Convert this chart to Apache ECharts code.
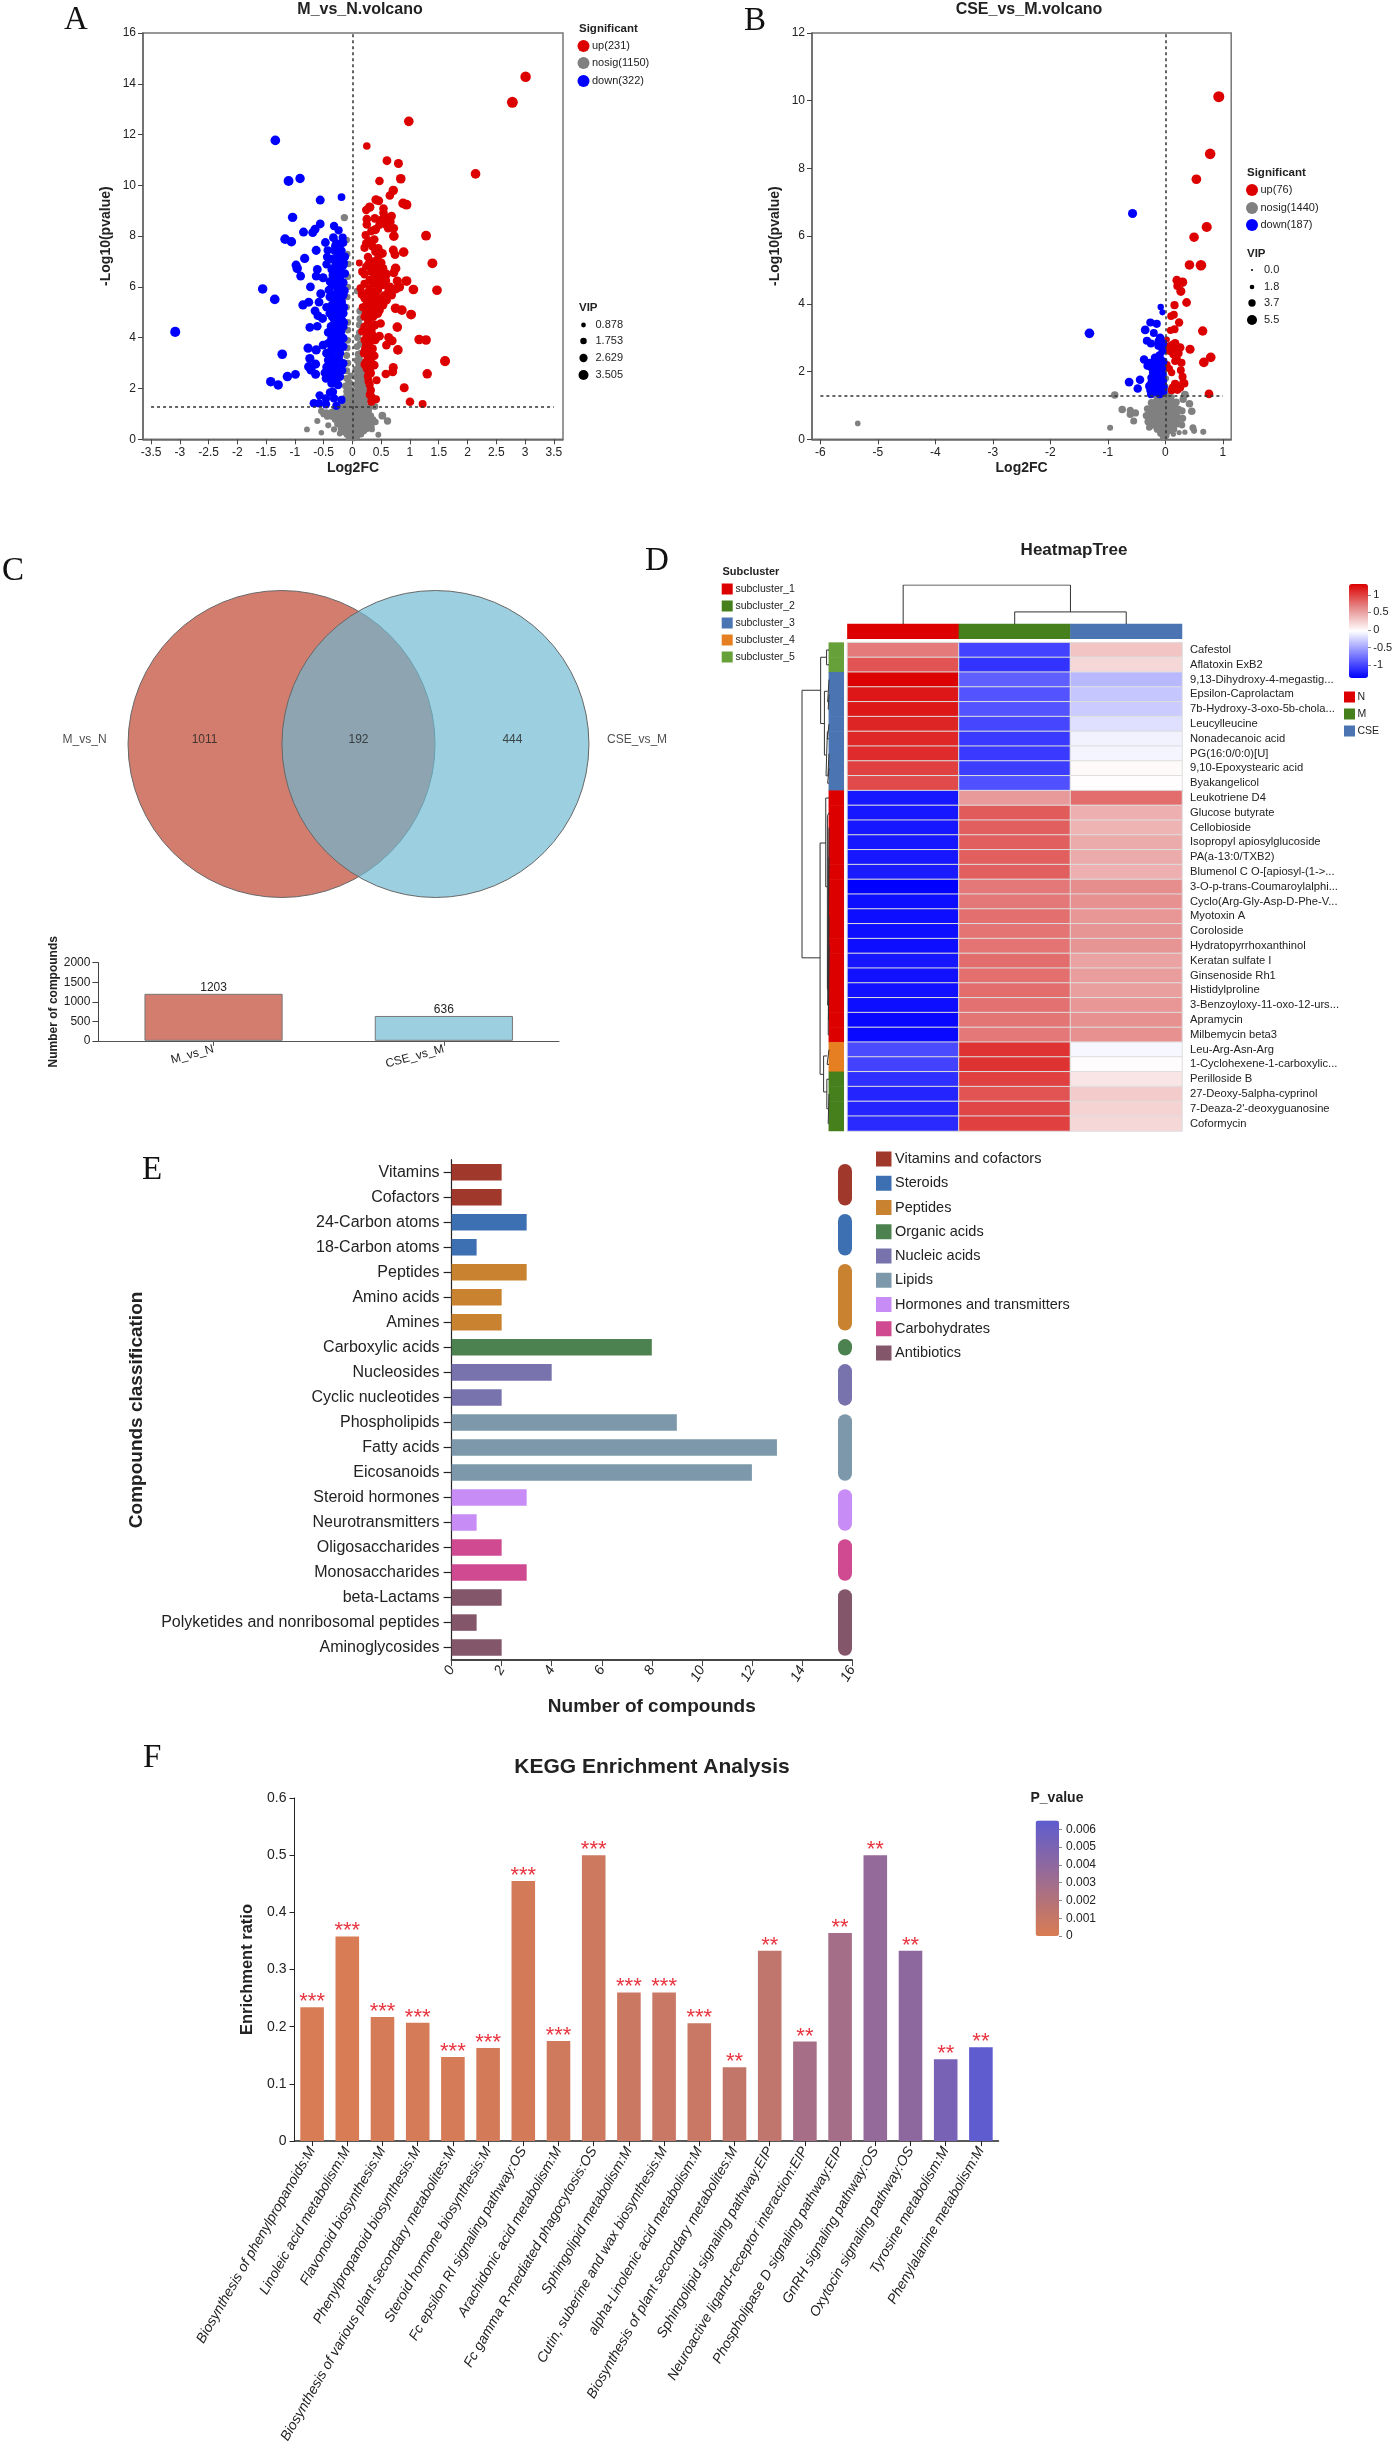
<!DOCTYPE html>
<html><head><meta charset="utf-8">
<script src="https://cdn.jsdelivr.net/npm/echarts@6/dist/echarts.min.js"></script>
<style>html,body{margin:0;padding:0;background:#fff}#c{width:1394px;height:2446px}</style></head>
<body><div id="c"></div>
<script>
// ---------- Panel A: M_vs_N volcano, [log2FC, -log10p, VIP (optional)]
const aUp=[[3.01,14.28,3.1],[2.78,13.27,3.3],[.98,12.52,2.7],[.25,11.55,1.7],[.6,10.97,2.3],[.8,10.86,2.4],[2.14,10.45,2.7],[.47,10.17,2.2],[.84,10.26,2.7],[.71,9.8,2.6],[.65,9.6,2.2],[.41,9.43,2.5],[.46,9.39,2.2],[.88,9.29,2.7],[.94,9.24,2.8],[.3,9.14,2.6],[.24,9.03,2.1],[.54,9.09,2.2],[.54,8.92,2.2],[.25,8.67,2.2],[.39,8.7,2.2],[.68,8.79,2.3],[.5,8.63,2.2],[.57,8.63,2.4],[.66,8.57,2.2],[.59,8.46,2.4],[.25,8.46,2.2],[.72,8.31,2.2],[.4,8.26,2.5],[.33,8.2,2.2],[.62,8.31,2.2],[.72,8,2.7],[1.28,8.02,2.8],[.23,8.04,2],[.28,7.82,2.2],[.38,7.87,2.2],[.24,7.72,2.1],[.21,7.54,2],[.35,7.59,2.2],[.45,7.52,2.2],[.4,7.39,2.2],[.52,7.32,2.4],[.71,7.45,2.4],[.74,7.27,2.3],[.89,7.37,2.7],[.27,7.18,2.1],[.12,6.94,1.4],[1.39,6.93,2.8],[.36,7,2.1],[.5,6.95,2.3],[.24,6.8,2.1],[.39,6.8,2.3],[.53,6.73,2.4],[.75,6.73,2.7],[.21,6.5,2.1],[.33,6.6,2.2],[.45,6.6,2.4],[.59,6.5,2.5],[.72,6.56,2.4],[.39,6.4,2.3],[.53,6.4,2.5],[.78,6.23,2.5],[.94,6.23,2.8],[.3,6.27,2.2],[.21,6.12,2],[.41,6.15,2.3],[.53,6.08,2.3],[.65,6,2.4],[.82,6,2.4],[1.06,5.9,2.7],[1.47,5.87,2.7],[.14,5.95,1.9],[.31,5.95,2.2],[.76,5.92,2.3],[.68,5.68,2.4],[.59,5.48,2.4],[.53,5.29,2.4],[.47,5.09,2.3],[.39,5.68,2.4],[.27,5.8,2.2],[.33,5.62,2.4],[.21,5.55,2.1],[.47,5.55,2.4],[.42,5.4,2.5],[.24,5.29,2.2],[.33,5.29,2.4],[.39,5.09,2.4],[.24,5.03,2.2],[.31,4.96,2.3],[.21,4.83,2.1],[.36,4.83,2.3],[.75,5.16,2.7],[.86,5.09,2.7],[1.02,4.91,2.8],[.49,4.56,2.2],[.27,4.56,2.2],[.39,4.5,2.3],[.21,4.43,2.1],[.78,4.42,2.7],[.33,4.3,2.2],[.24,4.17,2.1],[.47,4.06,2.3],[.4,3.91,2.1],[.63,4.01,2.4],[.69,3.88,2.4],[.59,3.71,2.2],[1.16,3.93,2.7],[1.28,3.91,2.7],[.21,3.91,2.1],[.3,3.84,2.2],[.24,3.71,2.2],[.35,3.57,2.2],[.79,3.52,2.7],[.2,3.39,2.1],[.29,3.32,2.3],[.38,3.29,2.2],[1.61,3.08,2.9],[.24,3.05,2.2],[.33,2.92,2.2],[.38,2.92,2.2],[.3,2.73,2.2],[.71,2.83,2.4],[.7,2.66,2.4],[.58,2.57,2.2],[1.3,2.58,2.6],[.32,2.6,2.1],[.27,2.47,2.1],[.42,2.33,1.9],[.9,2.03,2.4],[.32,1.93,2],[.33,1.68,2.1],[.33,1.48,2],[.41,1.58,1.9],[1,1.48,2.2],[1.22,1.39,1.9],[.28,6.9,2.2],[.44,7.1,2.2],[.17,6.6,2],[.58,6.25,2.3],[.44,5.88,2.3],[.63,5.85,2.3],[.55,5.65,2.4],[.16,5.7,1.9],[.28,5.5,2.2],[.44,4.95,2.3],[.5,5.45,2.3],[.18,5.2,2],[.28,4.7,2.2],[.17,4.25,1.9],[.22,3.55,2],[.25,2.78,2.1],[.21,2.95,1.9],[.6,8.72,2.2],[.47,8.45,2.2],[.55,8.75,2.2],[.49,6.3,2.3],[.35,6.2,2.3],[.34,5.1,2.2],[.28,5.15,2.2],[.3,4.35,2],[.35,4.1,2],[.26,4.0,2],[.28,3.55,2],[.32,3.15,2],[.27,3.25,2],[.28,2.3,2],[.3,2.15,2],[.28,2.55,2],[.3,1.75,1.9]];
const aDown=[[-3.08,4.23,2.9],[-1.34,11.77,2.7],[-1.11,10.17,2.8],[-.91,10.27,2.6],[-.56,9.42,2.4],[-.19,9.54,1.8],[-1.04,8.74,2.6],[-.56,8.48,2.3],[-.32,8.4,2.1],[-.24,8.23,2],[-.65,8.27,2.4],[-.69,8.14,2.4],[-.85,8.16,2.4],[-1.17,7.88,2.7],[-1.06,7.78,2.6],[-.33,7.94,2.3],[-.17,7.94,2],[-.47,7.75,2.3],[-.28,7.72,2.1],[-.16,7.74,2],[-.63,7.44,2.4],[-.43,7.44,2],[-.31,7.43,2.2],[-.19,7.43,2.1],[-.83,7.12,2.5],[-.44,7.18,2.1],[-.22,7.12,2.1],[-.13,7.19,2],[-.45,6.89,2.1],[-.28,6.93,2.3],[-.16,6.86,2.3],[-.98,6.86,2.4],[-.96,6.73,2.6],[-.61,6.69,2.3],[-.36,6.69,2.2],[-.25,6.67,2.4],[-.63,6.43,2.3],[-.9,6.43,2.3],[-.51,6.36,2.4],[-.34,6.47,2.3],[-.22,6.4,2.4],[-.13,6.53,2.1],[-.39,6.21,2.2],[-.28,6.21,2.4],[-.16,6.17,2.3],[-.73,6,2.3],[-1.56,5.92,2.6],[-.41,5.88,2.2],[-.25,5.95,2.4],[-1.35,5.51,2.7],[-.55,5.73,2.4],[-.39,5.61,2.4],[-.25,5.81,2.4],[-.16,5.68,2.3],[-.76,5.4,2.4],[-.86,5.29,2.5],[-.58,5.4,2.3],[-.31,5.42,2.4],[-.19,5.42,2.4],[-.45,5.2,2.2],[-.65,5.06,2.3],[-.6,4.87,2.3],[-.52,4.76,2.4],[-.39,4.96,2.4],[-.25,5.03,2.4],[-.16,4.96,2.3],[-.31,4.7,2.4],[-.19,4.7,2.4],[-.74,4.41,2.3],[-.61,4.45,2.2],[-.42,4.21,2.3],[-.28,4.37,2.4],[-.16,4.43,2.2],[-.25,4.11,2.4],[-.36,3.98,2.4],[-.16,3.98,2.3],[-.51,3.71,2.3],[-.42,3.78,2.2],[-.77,3.59,2.5],[-.63,3.52,2.5],[-.28,3.71,2.4],[-1.22,3.35,2.7],[-.45,3.39,2.3],[-.22,3.39,2.3],[-.74,3.18,2.5],[-.42,3.12,2.3],[-.31,3.05,2.3],[-.16,2.99,2.2],[-.64,2.96,2.4],[-.76,2.86,2.5],[-.72,2.73,2.5],[-.48,2.62,2.2],[-.64,2.56,2.4],[-.28,2.66,2.4],[-.99,2.56,2.3],[-1.13,2.47,2.6],[-1.42,2.27,2.6],[-1.29,2.14,2.6],[-.46,2.4,2.2],[-.22,2.47,2.3],[-.36,2.2,2.3],[-.25,2.14,2.3],[-.34,1.87,2.2],[-.39,1.84,2.1],[-.57,1.73,2.1],[-.46,1.61,2.1],[-.32,1.61,2],[-.19,1.55,2],[-.67,1.42,2.2],[-.58,1.42,2.2],[-.46,1.38,2.1],[-.28,1.32,2],[-.3,7.6,2.1],[-.2,7.7,2],[-.25,7.3,2.2],[-.35,7.1,2.1],[-.15,6.95,2.1],[-.3,6.8,2.3],[-.2,6.6,2.3],[-.3,6.3,2.4],[-.35,6.05,2.3],[-.2,6,2.4],[-.14,5.85,2.3],[-.3,5.7,2.4],[-.22,5.58,2.4],[-.35,5.3,2.3],[-.26,5.25,2.4],[-.15,5.2,2.3],[-.33,5.1,2.3],[-.22,4.85,2.4],[-.35,4.82,2.2],[-.26,4.55,2.4],[-.37,4.45,2.3],[-.15,4.6,2.2],[-.33,4.2,2.3],[-.2,4.25,2.3],[-.3,3.85,2.3],[-.21,3.85,2.3],[-.36,3.55,2.3],[-.26,3.5,2.3],[-.16,3.65,2.2],[-.35,3.25,2.3],[-.24,3.2,2.3],[-.36,2.9,2.2],[-.26,2.85,2.3],[-.45,2.85,2.2],[-.38,2.6,2.3],[-.18,2.72,2.2],[-.3,2.4,2.3],[-.4,2.42,2.2]];
const aNosig=[[-.79,.39,.9],[-.54,.26,.7],[-.61,.72,1],[-.42,.55,1],[-.32,.39,1],[-.22,.23,.9],[-.44,.89,1.1],[-.54,1.11,1.3],[.52,.93,1.8],[.61,.72,1.6],[.39,1.29,1.4],[.45,.18,.9],[.34,.39,.9],[.08,5.84,1.2],[-.06,.08,1.2],[.03,.05,1.2],[0,.15,1.3],[-.1,.2,1.3],[.08,.12,1.3],[.05,.25,1.3],[-.15,.3,1.3],[.12,.28,1.3],[-.03,.3,1.3],[.15,.2,1.2],[.2,.33,1.2],[-.2,.42,1.3],[-.12,.45,1.4],[-.05,.48,1.4],[.02,.42,1.4],[.1,.45,1.4],[.18,.5,1.3],[.26,.42,1.2],[.33,.5,1.2],[-.26,.6,1.3],[-.16,.58,1.4],[-.08,.6,1.4],[.06,.6,1.4],[.14,.58,1.4],[.23,.6,1.3],[.3,.62,1.3],[-.3,.78,1.3],[-.22,.75,1.4],[-.14,.72,1.4],[-.06,.78,1.4],[.02,.72,1.4],[.1,.78,1.4],[.18,.72,1.4],[.26,.8,1.3],[.36,.78,1.2],[.4,.68,1.2],[-.36,.9,1.3],[-.28,.92,1.4],[-.18,.9,1.4],[-.1,.92,1.4],[0,.9,1.4],[.08,.94,1.4],[.16,.9,1.4],[.24,.94,1.4],[.32,.92,1.3],[-.45,1.05,1.3],[-.35,1.08,1.4],[-.26,1.05,1.4],[-.16,1.1,1.4],[-.07,1.06,1.4],[.03,1.1,1.4],[.1,1.08,1.4],[.2,1.1,1.4],[.28,1.08,1.4],[-.2,1.25,1.4],[-.12,1.28,1.4],[-.04,1.25,1.4],[.05,1.28,1.4],[.14,1.25,1.4],[.22,1.28,1.4],[.3,1.26,1.4],[-.5,1,1.3],[-.15,1.45,1.4],[-.07,1.5,1.4],[.04,1.45,1.4],[.12,1.5,1.4],[.2,1.45,1.4],[.26,1.55,1.3],[-.12,1.65,1.4],[-.05,1.7,1.4],[.06,1.68,1.4],[.14,1.7,1.4],[.22,1.72,1.4],[-.1,1.88,1.4],[-.03,1.95,1.4],[.08,1.9,1.4],[.16,1.92,1.4],[.22,1.95,1.4],[-.12,2.1,1.4],[-.04,2.2,1.3],[.06,2.15,1.4],[.14,2.2,1.4],[.2,2.25,1.4],[-.1,2.4,1.4],[-.03,2.5,1.2],[.07,2.45,1.4],[.14,2.5,1.4],[.19,2.55,1.4],[-.1,2.7,1.4],[.06,2.75,1.4],[.12,2.8,1.4],[.17,2.85,1.3],[-.08,3,1.4],[.08,3.1,1.4],[.14,3.05,1.3],[-.1,3.3,1.4],[.1,3.35,1.4],[.15,3.4,1.3],[-.09,3.6,1.3],[.08,3.65,1.4],[.13,3.75,1.3],[-.08,3.9,1.3],[.09,4,1.4],[.12,4.2,1.3],[-.08,4.3,1.3],[.12,4.5,1.4],[-.08,4.6,1.3],[.13,4.75,1.4],[.13,5.05,1.5],[-.1,5.2,1.2],[-.09,5.6,1.2],[-.08,6,1.2],[-.08,6.4,1.2],[-.07,6.9,1.2],[-.09,7.3,1.2],[-.1,7.85,1.2],[-.14,8.73,1.6],[-.02,1.6,1.3],[.01,1.2,1.4],[.01,.7,1.4],[-.04,.95,1.4],[.05,.8,1.4],[-.1,.55,1.3],[.12,.95,1.3],[-.12,.85,1.3],[.18,1,1.3],[-.22,1,1.3],[-.3,1.2,1.3],[-.2,.65,1.3],[.22,.82,1.3],[.27,.55,1.2],[.1,.22,1.2],[-.04,.18,1.2],[.04,.36,1.3],[-.08,.38,1.2],[.16,.36,1.2],[.0,1.42,1.2],[.1,1.38,1.3],[-.1,1.38,1.3],[.18,1.58,1.3],[.1,1.82,1.3],[.0,1.82,1.1],[.11,2.05,1.3],[.18,2.1,1.3],[.1,2.32,1.3],[.17,2.38,1.3],[-.07,2.3,1.2],[.09,2.6,1.3],[.15,2.68,1.3],[.11,2.95,1.3],[.12,3.2,1.3]];
const bUp=[[.93,10.12,5.5],[.78,8.43,5.2],[.54,7.68,4.6],[.72,6.27,4.9],[.5,5.97,4.5],[.42,5.15,4.5],[.62,5.14,5.2],[.2,4.7,4],[.3,4.64,4.4],[.21,4.53,3.6],[.27,4.37,4.2],[.37,4.04,4],[.16,3.96,3.6],[.15,3.68,3.3],[.1,3.64,3.3],[.24,3.45,3.7],[.65,3.2,4.4],[.16,3.25,3.5],[.09,3.22,3],[.03,2.95,1.8],[.17,2.83,4],[.11,2.78,3.8],[.07,2.74,3.5],[.26,2.71,3.8],[.21,2.66,3.9],[.43,2.66,4.2],[.14,2.66,3.8],[.08,2.61,3.4],[.23,2.54,3.6],[.14,2.51,3.6],[.2,2.36,3.6],[.79,2.42,4.6],[.67,2.27,4.6],[.28,2.26,3.6],[.17,2.31,3.4],[.03,2.21,2.8],[.27,2.04,3.4],[.07,2.09,3],[.11,1.97,3],[.3,1.85,3.5],[.33,1.65,3.6],[.31,1.67,3.4],[.17,1.64,3.6],[.21,1.57,3.7],[.13,1.53,3.6],[.26,1.53,3.4],[.11,1.45,3.4],[.21,1.46,3.6],[.76,1.34,4]];
const bDown=[[-.57,6.67,4.2],[-1.32,3.13,4.6],[-.08,3.91,2.4],[-.05,3.75,2.2],[-.26,3.45,3.6],[-.15,3.41,3.6],[-.35,3.23,4],[-.2,3.14,3.4],[-.32,2.91,3.6],[-.25,2.83,3.6],[-.09,3,3.8],[-.12,2.9,3.4],[-.03,2.85,3],[-.12,2.76,3.6],[-.05,2.78,3.4],[-.05,2.61,3.4],[-.1,2.48,3.6],[-.37,2.36,3.8],[-.18,2.41,3.8],[-.09,2.36,4],[-.27,2.26,3.6],[-.21,2.26,3.8],[-.12,2.24,4],[-.03,2.3,3.4],[-.31,2.17,3.6],[-.24,2.12,3.8],[-.15,2.09,4],[-.06,2.09,4],[-.21,1.97,4],[-.12,1.92,4],[-.05,1.92,4],[-.24,1.82,3.8],[-.17,1.77,4],[-.08,1.75,4],[-.44,1.76,3.8],[-.63,1.69,4],[-.24,1.67,3.8],[-.15,1.62,4],[-.06,1.59,4],[-.28,1.57,3.6],[-.48,1.5,3.8],[-.21,1.53,4],[-.12,1.48,4],[-.25,1.33,3.4],[-.1,1.33,3.6],[-.18,1.43,4],[-.03,1.43,3.6],[-.26,1.45,3.6],[-.08,2.05,3.8],[-.18,1.85,4],[-.04,1.72,3.8],[-.13,2.15,3.8],[-.2,2.02,3.8],[-.1,1.62,3.8],[-.17,2.2,3.8],[-.03,1.55,3.6],[-.2,1.7,3.8],[-.14,1.4,3.8]];
const bNosig=[[-5.35,.47,1.9],[-.88,1.31,3.2],[-.96,.34,2.2],[-.75,.88,3.2],[-.61,.86,2.8],[-.61,.74,3],[-.52,.78,3],[-.55,.54,2.8],[.34,1.32,3.4],[.42,1.05,3.2],[.46,.83,3.2],[.48,.34,2.8],[.5,.25,2.2],[.66,.22,2.2],[.34,.21,1.6],[.24,.2,1.6],[.14,.15,1.6],[.31,1.18,3],[-.03,.06,3],[.01,.12,3],[-.08,.18,3],[.05,.25,3],[-.14,.3,3],[-.04,.32,3.2],[.08,.38,3],[.15,.3,2.6],[-.28,.35,2.4],[-.22,.42,3],[-.3,.52,3],[-.2,.58,3.2],[-.11,.5,3.2],[-.02,.55,3.2],[.06,.52,3.2],[.14,.48,3.2],[.22,.46,3],[.29,.42,2.6],[-.33,.7,3],[-.25,.76,3.2],[-.15,.72,3.2],[-.06,.74,3.2],[.03,.7,3.2],[.11,.72,3.2],[.2,.68,3.2],[.3,.62,3],[-.31,.9,3],[-.22,.94,3.2],[-.13,.9,3.2],[-.04,.94,3.2],[.05,.9,3.2],[.14,.92,3.2],[.23,.88,3.2],[.29,.84,3],[-.24,1.08,3.2],[-.16,1.1,3.2],[-.07,1.08,3.2],[.02,1.12,3.2],[.1,1.08,3.2],[.19,1.1,3],[-.14,1.22,3],[-.05,1.26,3],[.03,1.28,3],[.1,1.24,2.8],[0,1.55,2.4],[.01,1.8,2.4],[.02,2.1,2.2],[.03,2.6,2.2],[.02,2.95,2.2],[-.26,.6,3.2],[-.16,.62,3.2],[-.07,.62,3.2],[.02,.6,3.2],[.1,.6,3.2],[.18,.58,3.2],[-.2,.84,3.2],[-.1,.82,3.2],[.0,.82,3.2],[.09,.82,3.2],[.18,.8,3.2],[-.09,.42,3.2],[.0,.42,3.2],[.1,.28,3],[-.18,.48,3],[-.12,1.0,3.2],[-.02,1.0,3.2],[.07,1.0,3.2],[.16,1.0,3.2],[-.2,1.0,3.2],[-.02,.18,3]];
const vipA=[['0.878',.878],['1.753',1.753],['2.629',2.629],['3.505',3.505]];
const vipB=[['0.0',0],['1.8',1.8],['3.7',3.7],['5.5',5.5]];
const xTicksA=[-3.5,-3,-2.5,-2,-1.5,-1,-.5,0,.5,1,1.5,2,2.5,3,3.5];
const xTicksB=[-6,-5,-4,-3,-2,-1,0,1];
// ---------- Panel C: Venn and totals
const vennSets=['M_vs_N','CSE_vs_M'];
const vennCounts=[1011,192,444];
const vennTotals=[1203,636];
// ---------- Panel D: heatmap (N, M, CSE)
const heatCols=['N','M','CSE'];
const heatRows=['Cafestol','Aflatoxin ExB2','9,13-Dihydroxy-4-megastig...','Epsilon-Caprolactam','7b-Hydroxy-3-oxo-5b-chola...','Leucylleucine','Nonadecanoic acid','PG(16:0/0:0)[U]','9,10-Epoxystearic acid','Byakangelicol','Leukotriene D4','Glucose butyrate','Cellobioside','Isopropyl apiosylglucoside','PA(a-13:0/TXB2)','Blumenol C O-[apiosyl-(1->...','3-O-p-trans-Coumaroylalphi...','Cyclo(Arg-Gly-Asp-D-Phe-V...','Myotoxin A','Coroloside','Hydratopyrrhoxanthinol','Keratan sulfate I','Ginsenoside Rh1','Histidylproline','3-Benzoyloxy-11-oxo-12-urs...','Apramycin','Milbemycin beta3','Leu-Arg-Asn-Arg','1-Cyclohexene-1-carboxylic...','Perilloside B','27-Deoxy-5alpha-cyprinol','7-Deaza-2\'-deoxyguanosine','Coformycin'];
const heatVals=[[.72,-1.02,.31],[.9,-1.1,.2],[1.3,-.87,-.4],[1.2,-.93,-.33],[1.2,-.93,-.3],[1.13,-1,-.2],[1.12,-1.07,-.1],[1.1,-1.07,-.08],[1,-1.05,0],[.95,-.95,-.02],[-1.25,.55,.78],[-1.25,.87,.43],[-1.25,.85,.4],[-1.25,.85,.45],[-1.25,.85,.45],[-1.23,.85,.43],[-1.37,.73,.62],[-1.3,.73,.6],[-1.3,.77,.57],[-1.3,.75,.58],[-1.3,.75,.58],[-1.25,.78,.5],[-1.28,.77,.53],[-1.28,.78,.52],[-1.3,.76,.57],[-1.33,.74,.6],[-1.32,.73,.6],[-.98,1.06,-.07],[-1.02,1.06,-.01],[-1.12,1,.12],[-1.18,.9,.27],[-1.18,.97,.22],[-1.15,1,.2]];
const rowCluster=[4,4,2,2,2,2,2,2,2,2,0,0,0,0,0,0,0,0,0,0,0,0,0,0,0,0,0,3,3,1,1,1,1];
const clusterNames=['subcluster_1','subcluster_2','subcluster_3','subcluster_4','subcluster_5'];
const clusterColors=['#dc0000','#45801c','#4a74b2','#e57f22','#66a038'];
const heatTicks=[1,.5,0,-.5,-1];
const colTree=[[[.5,0],[.5,1],[2,1],[2,.31]],[[1.5,0],[1.5,.31],[2.5,.31],[2.5,0]]];
const rowTree=[[[.31,2.72],[1,2.72],[1,20.8],[.33,20.8]],[[.09,.49],[.31,.49],[.31,4.97],[.17,4.97]],[[0,0],[.09,0],[.09,1],[0,1]],[[.05,2.79],[.17,2.79],[.17,7.1],[.11,7.1]],[[0,2],[.05,2],[.05,3.5],[0,3.5]],[[0,3],[.03,3],[.03,4],[0,4]],[[.06,5.5],[.11,5.5],[.11,8.5],[.05,8.5]],[[0,5],[.06,5],[.06,6],[0,6]],[[0,8],[.05,8],[.05,9],[0,9]],[[0,7],[.04,7],[.04,8.5]],[[.2,28.67],[.33,28.67],[.33,13.04],[.12,13.04]],[[0,10],[.12,10],[.12,16],[.06,16]],[[.06,11.2],[.06,22.9]],[[0,11],[.06,11.2]],[[0,12],[.05,12],[.05,24],[0,24]],[[0,14],[.04,14],[.04,23],[0,23]],[[0,18],[.03,18],[.03,26],[0,26]],[[0,20],[.02,20],[.02,25],[0,25]],[[.07,27.43],[.2,27.43],[.2,29.86],[.08,29.86]],[[0,27],[.07,27],[.07,28],[0,28]],[[0,29],[.08,29],[.08,31],[.03,31]],[[0,30],[.03,30],[.03,32],[0,32]]];
// ---------- Panel E
const compGroups=['Vitamins and cofactors','Steroids','Peptides','Organic acids','Nucleic acids','Lipids','Hormones and transmitters','Carbohydrates','Antibiotics'];
const compColors=['#a0392b','#3d70b2','#c9822f','#4c8250','#7873ad','#7c98aa','#c88cf7','#cf4a90','#84566a'];
const compCats=['Vitamins','Cofactors','24-Carbon atoms','18-Carbon atoms','Peptides','Amino acids','Amines','Carboxylic acids','Nucleosides','Cyclic nucleotides','Phospholipids','Fatty acids','Eicosanoids','Steroid hormones','Neurotransmitters','Oligosaccharides','Monosaccharides','beta-Lactams','Polyketides and nonribosomal peptides','Aminoglycosides'];
const compVals=[2,2,3,1,3,2,2,8,4,2,9,13,12,3,1,2,3,2,1,2];
const compOfCat=[0,0,1,1,2,2,2,3,4,4,5,5,5,6,6,7,7,8,8,8];
// ---------- Panel F
const keggCats=['Biosynthesis of phenylpropanoids:M','Linoleic acid metabolism:M','Flavonoid biosynthesis:M','Phenylpropanoid biosynthesis:M','Biosynthesis of various plant secondary metabolites:M','Steroid hormone biosynthesis:M','Fc epsilon RI signaling pathway:OS','Arachidonic acid metabolism:M','Fc gamma R-mediated phagocytosis:OS','Sphingolipid metabolism:M','Cutin, suberine and wax biosynthesis:M','alpha-Linolenic acid metabolism:M','Biosynthesis of plant secondary metabolites:M','Sphingolipid signaling pathway:EIP','Neuroactive ligand-receptor interaction:EIP','Phospholipase D signaling pathway:EIP','GnRH signaling pathway:OS','Oxytocin signaling pathway:OS','Tyrosine metabolism:M','Phenylalanine metabolism:M'];
const keggRatio=[.234,.358,.217,.207,.147,.163,.455,.175,.5,.26,.26,.206,.129,.333,.174,.364,.5,.333,.143,.164];
const keggP=[.0001,.0001,.0002,.0002,.0002,.0003,.0003,.0005,.0007,.0008,.0009,.0009,.0012,.0013,.0027,.0028,.0037,.004,.0052,.0065];
const keggStars=['***','***','***','***','***','***','***','***','***','***','***','***','**','**','**','**','**','**','**','**'];
const pTicks=[0,.001,.002,.003,.004,.005,.006];

// ---------------------------------------------------------------- build
const FONT='"Liberation Sans",Arial,sans-serif';
const grid=[],xAxis=[],yAxis=[],series=[],visualMap=[],gfx=[];
const INK='#222';
function addGrid(g,x,y){grid.push(g);const i=grid.length-1;xAxis.push(Object.assign({gridIndex:i},x));yAxis.push(Object.assign({gridIndex:i},y));return i;}
function T(x,y,text,size,o={}){gfx.push({type:'text',z:50,silent:true,rotation:o.rot||0,x:x,y:y,style:{text,x:0,y:0,fontFamily:o.family||FONT,fontSize:size,fontWeight:o.bold?'bold':'normal',fill:o.fill||INK,align:o.align||'left',verticalAlign:'middle'}});}
function dot(x,y,d,fill){gfx.push({type:'circle',z:50,silent:true,shape:{cx:x,cy:y,r:d/2},style:{fill}});}
function box(x,y,w,h,fill){gfx.push({type:'rect',z:50,silent:true,shape:{x,y,width:w,height:h},style:{fill}});}
const hidden={show:false};
const noAxisX={type:'value',show:false},noAxisY={type:'value',show:false};

function volcano(cfg){
  const tickStyle={show:true,length:5,lineStyle:{color:'#444'}};
  const g=addGrid({left:cfg.left,top:33,width:cfg.width,height:406.3,show:true,borderColor:'#777',borderWidth:1.5,backgroundColor:'transparent'},
   {type:'value',min:cfg.xmin,max:cfg.xmax,splitLine:hidden,name:'Log2FC',nameLocation:'middle',nameGap:22,nameTextStyle:{fontFamily:FONT,fontSize:14,fontWeight:'bold',color:INK},
    axisLine:{lineStyle:{color:'#666',width:1.5},onZero:false},axisTick:Object.assign({customValues:cfg.xticks},tickStyle),
    axisLabel:{customValues:cfg.xticks,fontFamily:FONT,fontSize:12,color:INK,margin:7,hideOverlap:false,showMinLabel:true,showMaxLabel:true}},
   {type:'value',min:0,max:cfg.ymax,interval:2,splitLine:hidden,name:'-Log10(pvalue)',nameLocation:'middle',nameGap:cfg.nameGap,nameTextStyle:{fontFamily:FONT,fontSize:14,fontWeight:'bold',color:INK},
    axisLine:{lineStyle:{color:'#666',width:1.5},onZero:false},axisTick:tickStyle,axisLabel:{fontFamily:FONT,fontSize:12,color:INK,margin:7}});
  const size=d=>cfg.sizeOf(d[2]);
  const add=(name,data,color,extra)=>series.push(Object.assign({type:'scatter',name,xAxisIndex:g,yAxisIndex:g,data,symbol:'circle',symbolSize:size,itemStyle:{color,opacity:1},silent:true,large:false},extra||{}));
  add(cfg.names[1],cfg.nosig,'#808080');
  add(cfg.names[0],cfg.up,'#dc0000');
  add(cfg.names[2],cfg.down,'#0000ff',{markLine:{silent:true,symbol:'none',animation:false,label:{show:false},lineStyle:{color:'#333',type:[3,3],width:1.5},z:10,
    data:[[{coord:[cfg.hx[0],1.3]},{coord:[cfg.hx[1],1.3]}],[{coord:[0,0]},{coord:[0,cfg.ymax]}]]}});
}
volcano({left:143,width:420,xmin:-3.64,xmax:3.66,ymax:16,xticks:xTicksA,hx:[-3.5,3.5],nameGap:30,names:['up(231)','nosig(1150)','down(322)'],up:aUp,down:aDown,nosig:aNosig,sizeOf:v=>4+2.1*v});
volcano({left:812,width:419.2,xmin:-6.146,xmax:1.146,ymax:12,xticks:xTicksB,hx:[-6,1],nameGap:30,names:['up(76)','nosig(1440)','down(187)'],up:bUp,down:bDown,nosig:bNosig,sizeOf:v=>2.8+1.5*v});

function volcanoLegend(x0,ys,names,vipTitleY,vipYs,vips,tx,sizeOf,cx){
  T(x0,ys[0],'Significant',11.5,{bold:true});
  ['#dc0000','#808080','#0000ff'].forEach((c,i)=>{dot(cx,ys[i+1],12,c);T(cx+8.5,ys[i+1],names[i],11);});
  T(x0,vipTitleY,'VIP',11.5,{bold:true});
  vips.forEach((v,i)=>{dot(cx,vipYs[i],sizeOf(v[1]),'#000');T(tx,vipYs[i],v[0],11);});
}
volcanoLegend(579,[29,46,63,81],['up(231)','nosig(1150)','down(322)'],308,[325,341,358,375],vipA,595.5,v=>3+2*v,583.5);
volcanoLegend(1247,[173,190,208,225],['up(76)','nosig(1440)','down(187)'],254,[270,287,303,320],vipB,1264,v=>2+1.45*v,1252);
T(360,9.5,'M_vs_N.volcano',16,{bold:true,align:'center'});
T(1029,9.5,'CSE_vs_M.volcano',16,{bold:true,align:'center'});

// Panel C: venn, circles one radius apart on a hidden axis
const v=addGrid({left:50.7,top:590.5,width:615.6,height:307},Object.assign({min:-1.5,max:2.5},noAxisX),Object.assign({min:-1,max:1},noAxisY));
series.push({type:'scatter',xAxisIndex:v,yAxisIndex:v,silent:true,symbolSize:307,data:[[0,0]],itemStyle:{color:'#d37d6e',borderColor:'#666',borderWidth:1,opacity:1},name:vennSets[0]});
series.push({type:'scatter',xAxisIndex:v,yAxisIndex:v,silent:true,symbolSize:307,data:[[1,0]],itemStyle:{color:'rgba(109,184,209,0.68)',borderColor:'#666',borderWidth:1,opacity:1},name:vennSets[1]});
series.push({type:'scatter',xAxisIndex:v,yAxisIndex:v,silent:true,symbolSize:0,clip:false,z:5,itemStyle:{color:'transparent'},
  data:[[-.5,.03,vennCounts[0]],[.5,.03,vennCounts[1]],[1.5,.03,vennCounts[2]],[-1.28,.03,vennSets[0]],[2.31,.03,vennSets[1]]],
  label:{show:true,position:'inside',formatter:p=>p.value[2],fontFamily:FONT,fontSize:12,color:INK}});
const c2=addGrid({left:98.4,top:962.7,width:460.6,height:78.1},
  {type:'category',data:vennSets,axisLine:{lineStyle:{color:'#555',width:1.2}},axisTick:{show:true,alignWithLabel:true,length:5,lineStyle:{color:'#555'}},axisLabel:{rotate:15,fontFamily:FONT,fontSize:12,color:INK,margin:8,align:'right',interval:0}},
  {type:'value',min:0,max:2000,interval:500,splitLine:hidden,name:'Number of compounds',nameLocation:'middle',nameGap:39,nameTextStyle:{fontFamily:FONT,fontSize:12,fontWeight:'bold',color:INK},axisLine:{show:true,lineStyle:{color:'#444'}},axisTick:{show:true,length:6,lineStyle:{color:'#444'}},axisLabel:{fontFamily:FONT,fontSize:12,color:INK,margin:8,formatter:v=>String(v)}});
series.push({type:'bar',xAxisIndex:c2,yAxisIndex:c2,barWidth:'60%',silent:true,data:[{value:vennTotals[0],itemStyle:{color:'#d37d6e'}},{value:vennTotals[1],itemStyle:{color:'#9ccfe0'}}],itemStyle:{borderColor:'#777',borderWidth:1},label:{show:true,position:'top',distance:0,fontFamily:FONT,fontSize:12,color:INK}});

// Panel D
const hm=addGrid({left:847.4,top:642.6,width:334.6,height:488.4},
  {type:'category',data:heatCols,show:false},
  {type:'category',data:heatRows,inverse:true,position:'right',axisLine:hidden,axisTick:hidden,axisLabel:{interval:0,fontFamily:FONT,fontSize:11.2,color:INK,margin:8}});
const hmData=[];heatVals.forEach((r,i)=>r.forEach((val,j)=>hmData.push([j,i,val])));
const hmIdx=series.length;
series.push({type:'heatmap',xAxisIndex:hm,yAxisIndex:hm,data:hmData,silent:true,itemStyle:{borderColor:'#dedede',borderWidth:1}});
visualMap.push({type:'continuous',seriesIndex:hmIdx,min:-1.37,max:1.31,left:1349,top:584,itemWidth:19,itemHeight:94,padding:0,calculable:false,text:null,showLabel:false,inRange:{color:['#0000ff','#7f7fff','#ffffff','#e58a8a','#dc0000']},dimension:2,hoverLink:false});
const ca=addGrid({left:1368,top:584,width:1,height:94},Object.assign({min:0,max:1},noAxisX),
  {type:'value',position:'right',min:-1.37,max:1.31,splitLine:hidden,axisLine:hidden,axisTick:{show:true,length:3,customValues:heatTicks,lineStyle:{color:'#888'}},axisLabel:{customValues:heatTicks,fontFamily:FONT,fontSize:11,color:INK,margin:5,formatter:v=>String(v)}});
const at=addGrid({left:847.4,top:624,width:334.6,height:14.7},{type:'category',data:heatCols,show:false},{type:'category',data:['group'],show:false});
series.push({type:'heatmap',xAxisIndex:at,yAxisIndex:at,silent:true,data:[{value:[0,0,0],itemStyle:{color:clusterColors[0]}},{value:[1,0,1],itemStyle:{color:clusterColors[1]}},{value:[2,0,2],itemStyle:{color:clusterColors[2]}}]});
const al=addGrid({left:828.8,top:642.6,width:15,height:488.4},{type:'category',data:['cluster'],show:false},{type:'category',data:heatRows,inverse:true,show:false});
series.push({type:'heatmap',xAxisIndex:al,yAxisIndex:al,silent:true,data:rowCluster.map((c,i)=>({value:[0,i,c],itemStyle:{color:clusterColors[c]}}))});
const dt=addGrid({left:847.4,top:585,width:334.6,height:39},Object.assign({min:0,max:3},noAxisX),Object.assign({min:0,max:1},noAxisY));
series.push({type:'line',xAxisIndex:dt,yAxisIndex:dt,showSymbol:false,silent:true,lineStyle:{color:'#333',width:1},data:colTree.flatMap(s=>[...s,['-','-']])});
const dl=addGrid({left:802,top:642.6,width:27,height:488.4},Object.assign({min:0,max:1,inverse:true},noAxisX),Object.assign({min:-.5,max:32.5,inverse:true},noAxisY));
series.push({type:'line',xAxisIndex:dl,yAxisIndex:dl,showSymbol:false,silent:true,lineStyle:{color:'#333',width:1},data:rowTree.flatMap(s=>[...s,['-','-']])});
T(1074,550.5,'HeatmapTree',17,{bold:true,align:'center'});
T(722.5,571.5,'Subcluster',11,{bold:true});
clusterNames.forEach((n,i)=>{const y=589+17*i;box(721.7,y-5.5,11,11,clusterColors[i]);T(735.4,y,n,10.5);});
heatCols.forEach((n,i)=>{const y=697+17*i;box(1344,y-5.5,11,11,clusterColors[i]);T(1357.5,y,n,10.5);});

// Panel E
const eg=addGrid({left:451.6,top:1159.7,width:400.4,height:500.4},
  {type:'value',min:0,max:16,interval:2,splitLine:hidden,name:'Number of compounds',nameLocation:'middle',nameGap:37,nameTextStyle:{fontFamily:FONT,fontSize:19,fontWeight:'bold',color:INK},
   axisLine:{show:true,onZero:false,lineStyle:{color:'#444',width:2}},axisTick:{show:true,length:6,lineStyle:{color:'#444'}},axisLabel:{rotate:60,fontStyle:'italic',fontFamily:FONT,fontSize:14,color:INK,margin:7,showMinLabel:true,showMaxLabel:true}},
  {type:'category',data:compCats,inverse:true,name:'Compounds classification',nameLocation:'middle',nameGap:305,nameTextStyle:{fontFamily:FONT,fontSize:19,fontWeight:'bold',color:INK},
   axisLine:{show:true,lineStyle:{color:'#222',width:1.2}},axisTick:{show:true,alignWithLabel:true,length:8,lineStyle:{color:'#222',width:1.2}},axisLabel:{interval:0,fontFamily:FONT,fontSize:16,color:INK,margin:12}});
compGroups.forEach((n,k)=>{
  series.push({type:'bar',name:n,xAxisIndex:eg,yAxisIndex:eg,stack:'comp',barWidth:'66%',silent:true,itemStyle:{color:compColors[k]},data:compVals.map((val,i)=>compOfCat[i]===k?val:'-')});
  T(895,1159+24.25*k,n,14.5);box(876,1159+24.25*k-7.5,15.5,15,compColors[k]);
});
const groupSpans=compGroups.map((n,k)=>{const idx=compOfCat.map((c,i)=>c===k?i:-1).filter(i=>i>=0);return [idx[0],idx[idx.length-1],k];});
series.push({type:'custom',xAxisIndex:eg,yAxisIndex:eg,silent:true,data:groupSpans,encode:{y:[0,1]},clip:false,
  renderItem:(p,api)=>{const a=api.coord([16,api.value(0)]),b=api.coord([16,api.value(1)]),h=api.size([0,1])[1]*.33;
    return {type:'rect',shape:{x:a[0]-14,y:a[1]-h,width:14,height:b[1]-a[1]+2*h,r:7},style:{fill:compColors[api.value(2)]}};}});

// Panel F
const fg=addGrid({left:294.5,top:1798,width:704,height:345},
  {type:'category',data:keggCats,axisLine:{lineStyle:{color:'#222',width:1.5}},axisTick:{show:true,alignWithLabel:true,length:5,lineStyle:{color:'#222'}},axisLabel:{interval:0,rotate:60,fontStyle:'italic',fontFamily:FONT,fontSize:14,color:INK,margin:7}},
  {type:'value',min:0,max:.6,interval:.1,splitLine:hidden,name:'Enrichment ratio',nameLocation:'middle',nameGap:39,nameTextStyle:{fontFamily:FONT,fontSize:16.5,fontWeight:'bold',color:INK},axisLine:{show:true,lineStyle:{color:'#222'}},axisTick:{show:true,length:5,lineStyle:{color:'#222'}},axisLabel:{fontFamily:FONT,fontSize:14,color:INK,margin:8,formatter:v=>v===0?'0':v.toFixed(1)}});
const fIdx=series.length;
series.push({type:'bar',xAxisIndex:fg,yAxisIndex:fg,barWidth:'67%',silent:true,data:keggRatio.map((r,i)=>[i,r,keggP[i]]),encode:{x:0,y:1},
  label:{show:true,position:'top',distance:-6,formatter:p=>keggStars[p.dataIndex],fontFamily:FONT,fontSize:22,color:'#e8343f'}});
visualMap.push({type:'continuous',seriesIndex:fIdx,min:0,max:.0065,left:1035.6,top:1820.4,itemWidth:23.5,itemHeight:115.6,padding:0,calculable:false,text:null,showLabel:false,dimension:2,inRange:{color:['#d97c53','#5e5ccf']},hoverLink:false});
const fa=addGrid({left:1059,top:1820.4,width:1,height:115.6},Object.assign({min:0,max:1},noAxisX),
  {type:'value',position:'right',min:0,max:.0065,splitLine:hidden,axisLine:hidden,axisTick:{show:true,length:3,customValues:pTicks,lineStyle:{color:'#888'}},axisLabel:{customValues:pTicks,fontFamily:FONT,fontSize:12,color:INK,margin:6,formatter:v=>String(v)}});
T(652,1767.4,'KEGG Enrichment Analysis',21,{bold:true,align:'center'});
T(1030.5,1798.5,'P_value',14,{bold:true});

// panel letters
[['A',64,20],['B',744,21],['C',2,571],['D',645,561],['E',142,1170],['F',143,1758]].forEach(l=>T(l[1],l[2],l[0],33,{family:'"Liberation Serif",serif',fill:'#111'}));

const chart=echarts.init(document.getElementById('c'),null,{renderer:'canvas'});
chart.setOption({animation:false,backgroundColor:'#fff',textStyle:{fontFamily:FONT},tooltip:{show:false},grid,xAxis,yAxis,series,visualMap,graphic:{elements:gfx}});
</script></body></html>
